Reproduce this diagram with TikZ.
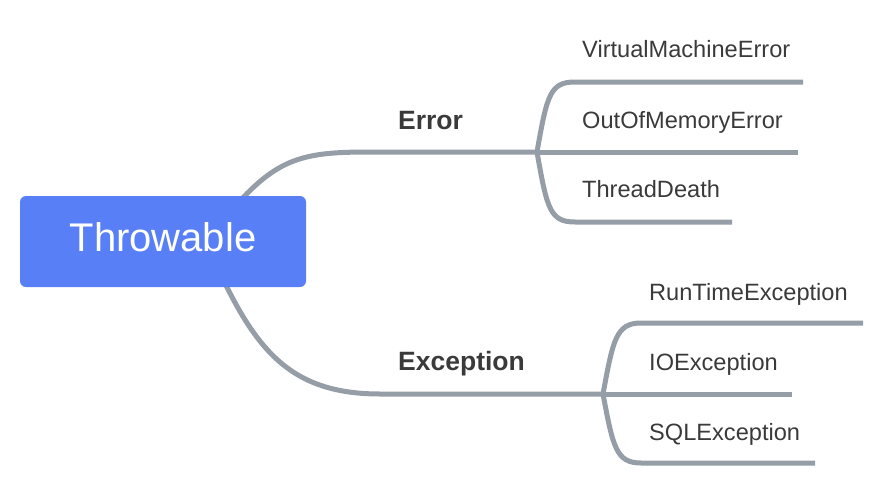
\documentclass[tikz,border=0pt]{standalone}
\usepackage{fontspec}
\setmainfont{Liberation Sans}
\usetikzlibrary{positioning, backgrounds}
\definecolor{cblue}{HTML}{587FF6}
\definecolor{cline}{HTML}{959DA6}
\definecolor{ctext}{HTML}{3A3A3A}
\tikzset{
  every picture/.style={x=1pt, y=-1pt},
  root/.style={fill=cblue, rounded corners=6pt, text=white, font=\fontsize{40}{48}\selectfont,
    minimum width=286pt, minimum height=91pt, inner sep=0pt, text depth=9pt},
  branch/.style={draw=cline, line width=5pt},
  topic/.style={anchor=base west, inner sep=0pt, text=ctext, font=\fontsize{26.5}{31}\selectfont\bfseries},
  leaf/.style={anchor=base west, inner sep=0pt, text=ctext, font=\fontsize{23.6}{28}\selectfont},
}
\begin{document}
\begin{tikzpicture}
  \useasboundingbox (0,0) rectangle (886,487);
  \node[root] (root) at (163,241.5) {Throwable};
  % topics
  \node[topic] (error) at (398,129) {Error};
  \node[topic] (exception) at (398,370) {Exception};
  % leaves
  \node[leaf] (vme) at (582,58) {VirtualMachineError};
  \node[leaf] (oom) at (582,128) {OutOfMemoryError};
  \node[leaf] (td) at (582,197) {ThreadDeath};
  \node[leaf] (rte) at (649,300) {RunTimeException};
  \node[leaf] (ioe) at (649,370) {IOException};
  \node[leaf] (sqle) at (649,440) {SQLException};
  % junctions and line ends
  \coordinate (root-up) at (225,218);
  \coordinate (root-down) at (215,262);
  \coordinate (err) at (537,152);
  \coordinate (exc) at (603,394);
  \coordinate (vme-end) at (803,82);
  \coordinate (oom-end) at (798,152);
  \coordinate (td-end) at (732,222);
  \coordinate (rte-end) at (863,323);
  \coordinate (ioe-end) at (792,394);
  \coordinate (sqle-end) at (815,463);
  \begin{scope}[on background layer]
    \draw[branch] (root-up) .. controls (275,158) and (300,152) .. (370,152) -- (err);
    \draw[branch] (root-down) .. controls (255,350) and (290,394) .. (380,394) -- (exc);
    \draw[branch] (err) .. controls (547,95) and (550,82) .. (575,82) -- (vme-end);
    \draw[branch] (err) -- (oom-end);
    \draw[branch] (err) .. controls (547,209) and (550,222) .. (575,222) -- (td-end);
    \draw[branch] (exc) .. controls (613,340) and (616,323) .. (641,323) -- (rte-end);
    \draw[branch] (exc) -- (ioe-end);
    \draw[branch] (exc) .. controls (613,447) and (616,463) .. (641,463) -- (sqle-end);
  \end{scope}
\end{tikzpicture}
\end{document}
